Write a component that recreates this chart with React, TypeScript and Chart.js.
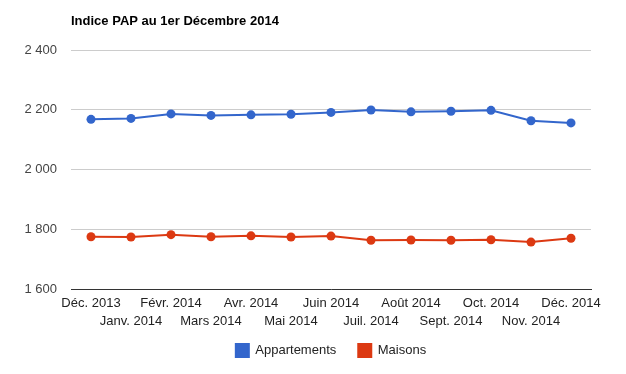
import React, { useEffect, useRef } from "react";
import { Chart, registerables } from "chart.js";

Chart.register(...registerables);

const months = [
  "Déc. 2013", "Janv. 2014", "Févr. 2014", "Mars 2014", "Avr. 2014", "Mai 2014", "Juin 2014",
  "Juil. 2014", "Août 2014", "Sept. 2014", "Oct. 2014", "Nov. 2014", "Déc. 2014",
];
const appartements = [2168, 2171, 2186, 2181, 2183, 2185, 2191, 2199, 2193, 2195, 2198, 2163, 2156];
const maisons = [1775, 1774, 1782, 1775, 1778, 1774, 1777, 1763, 1764, 1763, 1765, 1757, 1770];
const yTicks = [1600, 1800, 2000, 2200, 2400];

const FONT = "'Liberation Sans', Arial, sans-serif";

function fmt(v: number) {
  return String(v).replace(/\B(?=(\d{3})+(?!\d))/g, " ");
}

const unclipX = {
  id: "unclipX",
  afterLayout(chart: any) {
    const x = chart.scales.x;
    if (x) x.bottom = x.top + 45;
  },
};

export default function App() {
  const ref = useRef<HTMLCanvasElement | null>(null);
  useEffect(() => {
    document.body.style.margin = "0";
    const chart = new Chart(ref.current!, {
      type: "line",
      plugins: [unclipX],
      data: {
        labels: months,
        datasets: [
          {
            label: "Appartements",
            data: appartements,
            borderColor: "#3366cc",
            backgroundColor: "#3366cc",
            borderWidth: 2,
            pointRadius: 4.5,
            pointBorderWidth: 0,
            pointBackgroundColor: "#3366cc",
            tension: 0,
          },
          {
            label: "Maisons",
            data: maisons,
            borderColor: "#dc3912",
            backgroundColor: "#dc3912",
            borderWidth: 2,
            pointRadius: 4.5,
            pointBorderWidth: 0,
            pointBackgroundColor: "#dc3912",
            tension: 0,
          },
        ],
      },
      options: {
        animation: false,
        responsive: true,
        maintainAspectRatio: false,
        layout: { padding: { left: 0, right: 35, top: 0, bottom: 7 } },
        plugins: {
          title: {
            display: true,
            text: "Indice PAP au 1er Décembre 2014",
            align: "start",
            fullSize: false,
            color: "#000",
            font: { family: FONT, size: 13, weight: "bold", lineHeight: 1.2 },
            padding: { top: 14, bottom: 20.4 },
          },
          legend: {
            position: "bottom",
            fullSize: false,
            labels: {
              boxWidth: 13,
              boxHeight: 13,
              color: "#222",
              font: { family: FONT, size: 13 },
              padding: 22,
            },
          },
          tooltip: { enabled: false },
        },
        scales: {
          x: {
            offset: true,
            afterFit: (s: any) => {
              s.height = 33;
            },
            grid: { display: false, drawTicks: false },
            border: { display: true, color: "#333", width: 1 },
            ticks: {
              autoSkip: false,
              maxRotation: 0,
              minRotation: 0,
              padding: 6,
              color: "#222",
              font: { family: FONT, size: 13, lineHeight: 1.33 },
              callback: function (_v: any, i: number) {
                return i % 2 === 0 ? months[i] : ["", months[i]];
              },
            },
          },
          y: {
            min: yTicks[0],
            max: yTicks[yTicks.length - 1],
            afterFit: (s: any) => {
              s.width = 71;
            },
            afterBuildTicks: (s: any) => {
              s.ticks = yTicks.map((v) => ({ value: v }));
            },
            grid: { color: "#cccccc", lineWidth: 1, drawTicks: false },
            border: { display: false },
            ticks: {
              padding: 14,
              color: "#444",
              font: { family: FONT, size: 13 },
              callback: (v: any) => fmt(Number(v)),
            },
          },
        },
      },
    } as any);
    return () => chart.destroy();
  }, []);
  return (
    <div style={{ width: 626, height: 374, position: "relative" }}>
      <canvas ref={ref} />
    </div>
  );
}
